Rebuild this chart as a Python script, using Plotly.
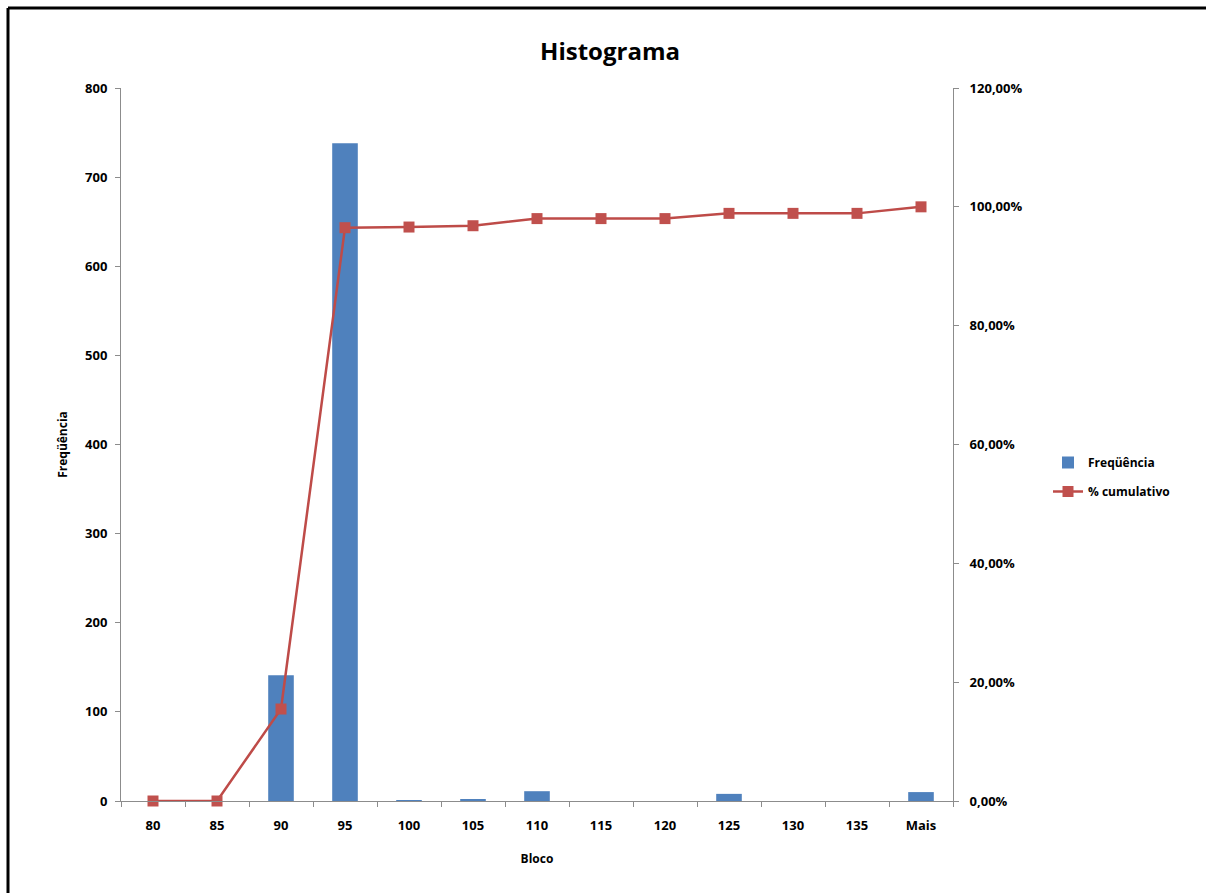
import plotly.graph_objects as go

categories = ["80", "85", "90", "95", "100", "105", "110", "115", "120", "125", "130", "135", "Mais"]
frequencia = [0, 0, 141, 738, 1, 2, 11, 0, 0, 8, 0, 0, 10]
cumulativo = [0.0, 0.0, 0.1548, 0.9649, 0.9660, 0.9682, 0.9802, 0.9802, 0.9802, 0.9890, 0.9890, 0.9890, 1.0]

FONT = "Open Sans"
W, H = 1206, 893
L, R, T, B = 121, 253, 88, 92
pw, ph = W - L - R, H - T - B

def px(x):
    return (x - L) / pw

def py(y):
    return (H - B - y) / ph

fig = go.Figure()
fig.add_trace(go.Bar(
    x=categories, y=frequencia, name="Freqüência",
    marker=dict(color="#4F81BD", line=dict(width=0)),
    yaxis="y", legendgroup="a",
))
fig.add_trace(go.Scatter(
    x=categories, y=cumulativo, name="% cumulativo",
    mode="lines+markers",
    line=dict(color="#BE4B48", width=2.5),
    marker=dict(symbol="square", size=11, color="#C0504D"),
    yaxis="y2", cliponaxis=False, legendgroup="b",
))

axis_common = dict(showline=True, linecolor="#8C8C8C", linewidth=1, ticks="outside",
                   tickcolor="#8C8C8C", ticklen=5, showgrid=False, zeroline=False,
                   tickfont=dict(family=FONT, size=13, color="#000", weight="bold"))
title_font = dict(family=FONT, size=12, color="#000", weight="bold")

fig.update_layout(
    width=W, height=H,
    margin=dict(l=L, r=R, t=T, b=B, autoexpand=False),
    paper_bgcolor="white", plot_bgcolor="white",
    separators=",.",
    bargap=0.6,
    font=dict(family=FONT, color="#000"),
    title=dict(text="<b>Histograma</b>", x=610 / W, xanchor="center",
               y=1 - 52 / H, yanchor="middle",
               font=dict(family=FONT, size=24, color="#000")),
    xaxis=dict(**axis_common, type="category", tickson="boundaries", range=[-0.5, 12.5],
               ticklabelstandoff=12,
               title=dict(text="Bloco", standoff=22, font=title_font)),
    yaxis=dict(**axis_common, range=[0, 800], dtick=100, ticklabelstandoff=5,
               title=dict(text="Freqüência", standoff=14, font=title_font)),
    yaxis2=dict(**axis_common, range=[0, 1.2], dtick=0.2, tickformat=".2%",
                ticklabelstandoff=8,
                overlaying="y", side="right", anchor="x"),
    legend=dict(x=px(1048), y=py(477), xanchor="left", yanchor="middle",
                font=dict(family=FONT, size=12, color="#000", weight="bold"),
                bgcolor="rgba(0,0,0,0)", tracegroupgap=10),
    shapes=[
        dict(type="line", xref="paper", yref="paper", x0=px(8), x1=px(8), y0=py(H + 5), y1=py(8),
             line=dict(color="#000", width=3)),
        dict(type="line", xref="paper", yref="paper", x0=px(8), x1=px(W + 5), y0=py(8), y1=py(8),
             line=dict(color="#000", width=3)),
    ],
)

fig.write_html("out.html")
